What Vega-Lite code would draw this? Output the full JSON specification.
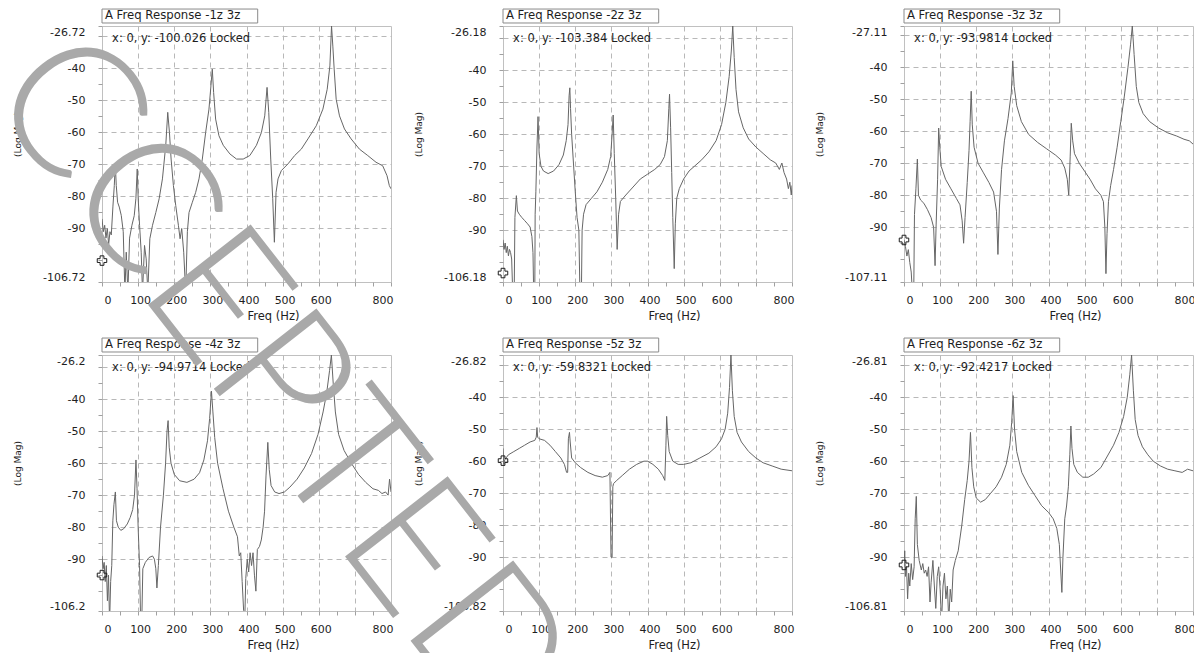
{
"$schema": "https://vega.github.io/schema/vega-lite/v6.json",
"background": "white",
"padding": {"left": -46, "top": 4, "right": 10, "bottom": 0},
"bounds": "flush",
"columns": 3,
"spacing": {"row": 73, "column": 112},
"datasets": {
"p1": [{"f":0,"m":-87},{"f":3.7,"m":-91},{"f":7.4,"m":-89},{"f":11,"m":-93},{"f":14.7,"m":-90},{"f":18.4,"m":-95},{"f":22,"m":-91},{"f":25.7,"m":-92},{"f":30.3,"m":-83},{"f":34,"m":-76.6},{"f":36.8,"m":-69.8},{"f":39.5,"m":-76.6},{"f":43.2,"m":-81.8},{"f":47.8,"m":-83.3},{"f":53.3,"m":-85.9},{"f":58.8,"m":-91},{"f":63.4,"m":-110},{"f":67.1,"m":-97.4},{"f":71.7,"m":-110},{"f":76.3,"m":-93},{"f":82.8,"m":-89},{"f":89.2,"m":-86},{"f":93.8,"m":-80.7},{"f":97.5,"m":-71.4},{"f":100.2,"m":-80.7},{"f":104,"m":-89},{"f":108.5,"m":-97.4},{"f":112.2,"m":-110},{"f":117.7,"m":-95.3},{"f":122.3,"m":-99.5},{"f":126.9,"m":-110},{"f":132.4,"m":-93.2},{"f":139.8,"m":-89},{"f":149,"m":-85},{"f":158.2,"m":-80.7},{"f":167.3,"m":-74.5},{"f":176.5,"m":-64},{"f":182,"m":-53.7},{"f":186.7,"m":-60},{"f":191.3,"m":-68.3},{"f":197.7,"m":-76.6},{"f":204.1,"m":-82.8},{"f":211.5,"m":-89},{"f":216.1,"m":-93.2},{"f":220.7,"m":-90},{"f":226.2,"m":-97.4},{"f":231.7,"m":-110},{"f":236.3,"m":-91},{"f":240.9,"m":-85},{"f":250.1,"m":-81.8},{"f":259.3,"m":-78.7},{"f":268.5,"m":-74.5},{"f":277.7,"m":-68.3},{"f":286.9,"m":-60},{"f":296.1,"m":-52.7},{"f":301.6,"m":-45.4},{"f":305.3,"m":-40.2},{"f":309,"m":-47.5},{"f":314.5,"m":-55.8},{"f":323.7,"m":-61},{"f":335.6,"m":-64},{"f":354,"m":-66.7},{"f":372.4,"m":-68.3},{"f":390.8,"m":-68.3},{"f":409.2,"m":-67.2},{"f":427.5,"m":-64},{"f":441.3,"m":-60},{"f":450.5,"m":-54.8},{"f":456.9,"m":-45.9},{"f":461.6,"m":-53.7},{"f":467.1,"m":-68.3},{"f":472.6,"m":-80.7},{"f":477.2,"m":-94.3},{"f":481.8,"m":-78.7},{"f":487.3,"m":-74.5},{"f":496.5,"m":-71.9},{"f":514.9,"m":-69.8},{"f":533.3,"m":-67.2},{"f":551.7,"m":-65.2},{"f":570.1,"m":-62},{"f":593.1,"m":-57.9},{"f":611.5,"m":-52.7},{"f":623.4,"m":-46.5},{"f":630.8,"m":-39.2},{"f":635.4,"m":-26.72},{"f":639,"m":-33},{"f":642.7,"m":-40.2},{"f":648.2,"m":-49.6},{"f":657.4,"m":-54.8},{"f":671.2,"m":-58.9},{"f":689.6,"m":-62},{"f":712.6,"m":-65.2},{"f":735.6,"m":-67.2},{"f":758.6,"m":-69.3},{"f":777,"m":-70.4},{"f":789,"m":-73.5},{"f":795.4,"m":-76.6},{"f":800,"m":-77.6}],
"p2": [{"f":0,"m":-93},{"f":3,"m":-96},{"f":6,"m":-94},{"f":9,"m":-97},{"f":12,"m":-95},{"f":15,"m":-98},{"f":18,"m":-96},{"f":21,"m":-97},{"f":24,"m":-99},{"f":27,"m":-110},{"f":31,"m":-110},{"f":33,"m":-86},{"f":37,"m":-79.2},{"f":40,"m":-84},{"f":45,"m":-85},{"f":52,"m":-86},{"f":60,"m":-87},{"f":68,"m":-88},{"f":75,"m":-89},{"f":80,"m":-92},{"f":83,"m":-97},{"f":85,"m":-110},{"f":88,"m":-110},{"f":89,"m":-85},{"f":91,"m":-78},{"f":94,"m":-64},{"f":97,"m":-54.5},{"f":100,"m":-66},{"f":105,"m":-70},{"f":112,"m":-71.5},{"f":125,"m":-72.3},{"f":140,"m":-71.5},{"f":155,"m":-69.5},{"f":167,"m":-66.5},{"f":175,"m":-62},{"f":180,"m":-57},{"f":183,"m":-48},{"f":185,"m":-45.5},{"f":187,"m":-52},{"f":190,"m":-60},{"f":195,"m":-69},{"f":200,"m":-78},{"f":205,"m":-86},{"f":210,"m":-90},{"f":213,"m":-110},{"f":217,"m":-110},{"f":219,"m":-90},{"f":223,"m":-85},{"f":230,"m":-82},{"f":245,"m":-80},{"f":260,"m":-78},{"f":275,"m":-75},{"f":290,"m":-71},{"f":298,"m":-67},{"f":302,"m":-60},{"f":305,"m":-54},{"f":308,"m":-66},{"f":312,"m":-80},{"f":316,"m":-96},{"f":320,"m":-85},{"f":325,"m":-81},{"f":340,"m":-79},{"f":360,"m":-76.5},{"f":380,"m":-74},{"f":400,"m":-72.5},{"f":420,"m":-71},{"f":435,"m":-69.5},{"f":447,"m":-67},{"f":455,"m":-62},{"f":459,"m":-52},{"f":461,"m":-47.5},{"f":464,"m":-58},{"f":467,"m":-72},{"f":470,"m":-86},{"f":474,"m":-102},{"f":477,"m":-88},{"f":481,"m":-80},{"f":488,"m":-77},{"f":500,"m":-74},{"f":515,"m":-71.5},{"f":530,"m":-70},{"f":550,"m":-68},{"f":570,"m":-65.5},{"f":590,"m":-62},{"f":605,"m":-57},{"f":617,"m":-50},{"f":626,"m":-42},{"f":632,"m":-34},{"f":636,"m":-26.18},{"f":640,"m":-36},{"f":645,"m":-46},{"f":652,"m":-53},{"f":665,"m":-58},{"f":680,"m":-61.5},{"f":700,"m":-64},{"f":720,"m":-66},{"f":740,"m":-68},{"f":755,"m":-69},{"f":765,"m":-71},{"f":772,"m":-69},{"f":778,"m":-72},{"f":785,"m":-74},{"f":790,"m":-77},{"f":794,"m":-75},{"f":798,"m":-79},{"f":800,"m":-76}],
"p3": [{"f":0,"m":-94},{"f":4,"m":-96},{"f":8,"m":-99},{"f":12,"m":-97},{"f":16,"m":-101},{"f":20,"m":-104},{"f":23,"m":-110},{"f":27,"m":-110},{"f":29,"m":-86},{"f":33,"m":-78},{"f":37,"m":-68.7},{"f":40,"m":-80},{"f":46,"m":-81.5},{"f":55,"m":-82.5},{"f":65,"m":-84.5},{"f":75,"m":-87},{"f":82,"m":-90},{"f":86,"m":-102},{"f":89,"m":-89},{"f":93,"m":-75},{"f":96,"m":-59},{"f":99,"m":-65},{"f":103,"m":-71},{"f":115,"m":-75},{"f":130,"m":-78},{"f":145,"m":-81},{"f":155,"m":-83},{"f":161,"m":-88},{"f":165,"m":-95},{"f":169,"m":-87},{"f":175,"m":-76},{"f":180,"m":-66},{"f":183,"m":-57},{"f":186,"m":-47.5},{"f":189,"m":-58},{"f":194,"m":-65},{"f":205,"m":-70},{"f":220,"m":-73},{"f":235,"m":-76},{"f":248,"m":-79},{"f":256,"m":-85},{"f":260,"m":-98.5},{"f":264,"m":-84},{"f":270,"m":-72},{"f":278,"m":-63},{"f":288,"m":-56},{"f":297,"m":-48},{"f":301,"m":-38},{"f":305,"m":-46},{"f":312,"m":-52},{"f":325,"m":-57},{"f":345,"m":-61},{"f":370,"m":-63.5},{"f":395,"m":-65.5},{"f":420,"m":-67.5},{"f":435,"m":-69},{"f":445,"m":-71.5},{"f":452,"m":-75},{"f":456,"m":-80},{"f":460,"m":-68},{"f":463,"m":-57.5},{"f":467,"m":-63},{"f":472,"m":-67},{"f":485,"m":-70},{"f":500,"m":-72.5},{"f":515,"m":-75},{"f":530,"m":-78},{"f":545,"m":-80},{"f":552,"m":-82},{"f":556,"m":-90},{"f":559,"m":-104.5},{"f":562,"m":-92},{"f":566,"m":-82},{"f":572,"m":-77},{"f":580,"m":-72},{"f":590,"m":-65},{"f":600,"m":-57},{"f":610,"m":-49},{"f":620,"m":-40},{"f":627,"m":-33},{"f":632,"m":-27.11},{"f":637,"m":-36},{"f":643,"m":-46},{"f":650,"m":-51},{"f":662,"m":-54.5},{"f":680,"m":-57},{"f":705,"m":-59},{"f":730,"m":-60.5},{"f":755,"m":-61.5},{"f":775,"m":-62.5},{"f":790,"m":-63},{"f":800,"m":-64}],
"p4": [{"f":0,"m":-89},{"f":3,"m":-93},{"f":6,"m":-91},{"f":9,"m":-97},{"f":12,"m":-92},{"f":15,"m":-103},{"f":18,"m":-95},{"f":21,"m":-110},{"f":24,"m":-97},{"f":27,"m":-92},{"f":30,"m":-78},{"f":33,"m":-73},{"f":37,"m":-69},{"f":40,"m":-78},{"f":45,"m":-80},{"f":52,"m":-81},{"f":60,"m":-80.5},{"f":70,"m":-79},{"f":78,"m":-77},{"f":85,"m":-74.5},{"f":90,"m":-70},{"f":94,"m":-59},{"f":97,"m":-68},{"f":100,"m":-80},{"f":104,"m":-92},{"f":107,"m":-110},{"f":110,"m":-110},{"f":113,"m":-93},{"f":120,"m":-91},{"f":130,"m":-89.5},{"f":140,"m":-89},{"f":145,"m":-90},{"f":149,"m":-93},{"f":152,"m":-99},{"f":156,"m":-92},{"f":162,"m":-80},{"f":170,"m":-70},{"f":176,"m":-60},{"f":180,"m":-50},{"f":183,"m":-46.7},{"f":186,"m":-55},{"f":191,"m":-60},{"f":200,"m":-63.5},{"f":215,"m":-65.5},{"f":235,"m":-66},{"f":255,"m":-65},{"f":270,"m":-63},{"f":282,"m":-59},{"f":292,"m":-53},{"f":298,"m":-46},{"f":303,"m":-37.5},{"f":307,"m":-44},{"f":312,"m":-52},{"f":320,"m":-60},{"f":335,"m":-68},{"f":350,"m":-75},{"f":365,"m":-80},{"f":375,"m":-83},{"f":380,"m":-89},{"f":384,"m":-88},{"f":388,"m":-97},{"f":392,"m":-106},{"f":395,"m":-110},{"f":398,"m":-96},{"f":402,"m":-90},{"f":406,"m":-94},{"f":410,"m":-88},{"f":414,"m":-92},{"f":418,"m":-88},{"f":422,"m":-95},{"f":426,"m":-100},{"f":430,"m":-87},{"f":436,"m":-86},{"f":441,"m":-84},{"f":446,"m":-80},{"f":450,"m":-75},{"f":454,"m":-64},{"f":459,"m":-53.5},{"f":463,"m":-62},{"f":468,"m":-67},{"f":478,"m":-69},{"f":490,"m":-69.5},{"f":505,"m":-69},{"f":520,"m":-67.5},{"f":540,"m":-65},{"f":560,"m":-61.5},{"f":580,"m":-57},{"f":598,"m":-51},{"f":612,"m":-44},{"f":622,"m":-38},{"f":630,"m":-31},{"f":635,"m":-26.2},{"f":640,"m":-35},{"f":646,"m":-44},{"f":655,"m":-51},{"f":670,"m":-56},{"f":690,"m":-60},{"f":710,"m":-63.5},{"f":730,"m":-66},{"f":750,"m":-68},{"f":765,"m":-68.5},{"f":775,"m":-69.5},{"f":785,"m":-69},{"f":792,"m":-70},{"f":796,"m":-65},{"f":800,"m":-69}],
"p5": [{"f":0,"m":-56},{"f":2,"m":-61},{"f":5,"m":-59.5},{"f":15,"m":-58},{"f":30,"m":-57},{"f":45,"m":-56},{"f":60,"m":-55},{"f":75,"m":-54},{"f":88,"m":-53.5},{"f":92,"m":-52.5},{"f":94,"m":-49.5},{"f":96,"m":-52.5},{"f":100,"m":-53},{"f":115,"m":-53.5},{"f":130,"m":-55},{"f":145,"m":-57},{"f":160,"m":-59},{"f":170,"m":-61},{"f":176,"m":-63.5},{"f":179,"m":-63.5},{"f":181,"m":-53},{"f":184,"m":-51},{"f":186,"m":-54},{"f":190,"m":-59},{"f":200,"m":-60.5},{"f":215,"m":-62},{"f":235,"m":-63.5},{"f":255,"m":-64.5},{"f":275,"m":-65},{"f":290,"m":-64.5},{"f":296,"m":-63.5},{"f":299,"m":-90},{"f":302,"m":-90},{"f":304,"m":-68},{"f":306,"m":-67},{"f":315,"m":-66},{"f":330,"m":-64.5},{"f":350,"m":-62.5},{"f":370,"m":-61},{"f":390,"m":-60},{"f":400,"m":-60},{"f":415,"m":-61},{"f":430,"m":-62.5},{"f":442,"m":-64.5},{"f":448,"m":-66},{"f":451,"m":-55},{"f":453,"m":-46},{"f":456,"m":-52},{"f":460,"m":-57},{"f":470,"m":-60},{"f":485,"m":-61},{"f":500,"m":-61},{"f":520,"m":-60.5},{"f":545,"m":-59},{"f":570,"m":-57.5},{"f":590,"m":-55.5},{"f":605,"m":-53},{"f":615,"m":-50},{"f":622,"m":-45},{"f":627,"m":-37},{"f":631,"m":-26.82},{"f":635,"m":-38},{"f":640,"m":-46},{"f":648,"m":-51},{"f":660,"m":-54},{"f":680,"m":-57},{"f":700,"m":-59},{"f":720,"m":-60.5},{"f":745,"m":-61.5},{"f":770,"m":-62.5},{"f":800,"m":-63}],
"p6": [{"f":0,"m":-93},{"f":2,"m":-88},{"f":4,"m":-96},{"f":7,"m":-93},{"f":10,"m":-103},{"f":13,"m":-95},{"f":16,"m":-99},{"f":20,"m":-92},{"f":24,"m":-97},{"f":28,"m":-93},{"f":31,"m":-78},{"f":34,"m":-71},{"f":37,"m":-86},{"f":42,"m":-91},{"f":48,"m":-94},{"f":52,"m":-92},{"f":56,"m":-95},{"f":60,"m":-94},{"f":64,"m":-96},{"f":68,"m":-93},{"f":72,"m":-104},{"f":75,"m":-98},{"f":80,"m":-91},{"f":84,"m":-99},{"f":88,"m":-106},{"f":92,"m":-96},{"f":96,"m":-93},{"f":100,"m":-100},{"f":104,"m":-110},{"f":108,"m":-99},{"f":112,"m":-95},{"f":116,"m":-103},{"f":120,"m":-99},{"f":124,"m":-110},{"f":128,"m":-100},{"f":132,"m":-104},{"f":136,"m":-94},{"f":142,"m":-91},{"f":150,"m":-88},{"f":160,"m":-80},{"f":168,"m":-72},{"f":175,"m":-66},{"f":180,"m":-60},{"f":184,"m":-51},{"f":188,"m":-62},{"f":193,"m":-68},{"f":200,"m":-71.5},{"f":212,"m":-72.8},{"f":225,"m":-72},{"f":240,"m":-70},{"f":255,"m":-68},{"f":270,"m":-65},{"f":283,"m":-61},{"f":293,"m":-55},{"f":298,"m":-48},{"f":302,"m":-39.5},{"f":306,"m":-50},{"f":312,"m":-57},{"f":326,"m":-63.5},{"f":344,"m":-67.5},{"f":363,"m":-70.8},{"f":381,"m":-73.9},{"f":400,"m":-76},{"f":413,"m":-78},{"f":423,"m":-81},{"f":430,"m":-86},{"f":437,"m":-101},{"f":440,"m":-90},{"f":445,"m":-78},{"f":450,"m":-74},{"f":455,"m":-68},{"f":459,"m":-58},{"f":462,"m":-49},{"f":465,"m":-56},{"f":470,"m":-61},{"f":480,"m":-63.5},{"f":495,"m":-65},{"f":510,"m":-65},{"f":525,"m":-64},{"f":545,"m":-62},{"f":560,"m":-59},{"f":580,"m":-55},{"f":595,"m":-51},{"f":608,"m":-46},{"f":618,"m":-40},{"f":625,"m":-33},{"f":630,"m":-26.81},{"f":635,"m":-38},{"f":640,"m":-47},{"f":648,"m":-52},{"f":660,"m":-55.5},{"f":675,"m":-58},{"f":690,"m":-60},{"f":710,"m":-61.5},{"f":730,"m":-62.5},{"f":750,"m":-63},{"f":770,"m":-63.5},{"f":785,"m":-62.5},{"f":800,"m":-63}]
},
"concat": [
{"width": 289, "height": 256, "resolve": {"scale": {"x": "independent", "y": "independent"}}, "layer": [
 {"data": {"name": "p1"}, "mark": {"type": "line", "clip": true, "color": "#666666", "strokeWidth": 1},
  "encoding": {
   "x": {"field": "f", "type": "quantitative", "scale": {"domain": [0, 800]}, "axis": {"title": "Freq (Hz)", "values": [0,50,100,150,200,250,300,350,400,450,500,550,600,650,700,750,800], "labelOverlap": false, "labelExpr": "datum.value % 100 == 0 && datum.value != 700 ? datum.label : ''", "gridOpacity": {"condition": {"test": "datum.value % 100 == 0 && datum.value > 0 && datum.value < 800", "value": 1}, "value": 0}}},
   "y": {"field": "m", "type": "quantitative", "scale": {"domain": [-106.72, -26.72]}, "axis": {"title": "(Log Mag)", "values": [-106.72,-100,-95,-90,-85,-80,-75,-70,-65,-60,-55,-50,-45,-40,-35,-30,-26.72], "labelOverlap": false, "labelExpr": "(datum.value % 10 == 0 && datum.value > -95 && datum.value < -35) || datum.value % 5 != 0 ? toString(datum.value) : ''", "gridOpacity": {"condition": {"test": "datum.value % 10 == 0 && datum.value >= -90", "value": 1}, "value": 0}}}}},
 {"data": {"values": [{}]}, "mark": {"type": "rect", "fill": "#ffffff", "stroke": "#8a8a8a", "strokeWidth": 1},
  "encoding": {"x": {"datum": 0, "type": "quantitative", "scale": {"domain": [0, 800]}, "axis": null}, "x2": {"datum": 431}, "y": {"datum": -21.42, "type": "quantitative", "scale": {"domain": [-106.72, -26.72]}, "axis": null}, "y2": {"datum": -25.78}}},
 {"data": {"values": [{}]}, "mark": {"type": "text", "text": "A Freq Response -1z 3z", "align": "left", "baseline": "middle", "font": "DejaVu Sans", "fontSize": 11.7, "color": "#1e1e1e"},
  "encoding": {"x": {"datum": 8, "type": "quantitative", "scale": {"domain": [0, 800]}, "axis": null}, "y": {"datum": -23.28, "type": "quantitative", "scale": {"domain": [-106.72, -26.72]}, "axis": null}}},
 {"data": {"values": [{}]}, "mark": {"type": "text", "text": "x: 0, y: -100.026 Locked", "align": "left", "baseline": "middle", "font": "DejaVu Sans", "fontSize": 11.5, "color": "#1e1e1e"},
  "encoding": {"x": {"datum": 28, "type": "quantitative", "scale": {"domain": [0, 800]}, "axis": null}, "y": {"datum": -30.82, "type": "quantitative", "scale": {"domain": [-106.72, -26.72]}, "axis": null}}},
 {"data": {"values": [{}]}, "mark": {"type": "point", "shape": "cross", "size": 90, "filled": false, "color": "#1e1e1e", "strokeWidth": 1, "opacity": 1},
  "encoding": {"x": {"datum": 0, "type": "quantitative", "scale": {"domain": [0, 800]}, "axis": null}, "y": {"datum": -100.026, "type": "quantitative", "scale": {"domain": [-106.72, -26.72]}, "axis": null}}}
]},
{"width": 289, "height": 256, "resolve": {"scale": {"x": "independent", "y": "independent"}}, "layer": [
 {"data": {"name": "p2"}, "mark": {"type": "line", "clip": true, "color": "#666666", "strokeWidth": 1},
  "encoding": {
   "x": {"field": "f", "type": "quantitative", "scale": {"domain": [0, 800]}, "axis": {"title": "Freq (Hz)", "values": [0,50,100,150,200,250,300,350,400,450,500,550,600,650,700,750,800], "labelOverlap": false, "labelExpr": "datum.value % 100 == 0 && datum.value != 700 ? datum.label : ''", "gridOpacity": {"condition": {"test": "datum.value % 100 == 0 && datum.value > 0 && datum.value < 800", "value": 1}, "value": 0}}},
   "y": {"field": "m", "type": "quantitative", "scale": {"domain": [-106.18, -26.18]}, "axis": {"title": "(Log Mag)", "values": [-106.18,-100,-95,-90,-85,-80,-75,-70,-65,-60,-55,-50,-45,-40,-35,-30,-26.18], "labelOverlap": false, "labelExpr": "(datum.value % 10 == 0 && datum.value > -95 && datum.value < -35) || datum.value % 5 != 0 ? toString(datum.value) : ''", "gridOpacity": {"condition": {"test": "datum.value % 10 == 0 && datum.value >= -90", "value": 1}, "value": 0}}}}},
 {"data": {"values": [{}]}, "mark": {"type": "rect", "fill": "#ffffff", "stroke": "#8a8a8a", "strokeWidth": 1},
  "encoding": {"x": {"datum": 0, "type": "quantitative", "scale": {"domain": [0, 800]}, "axis": null}, "x2": {"datum": 431}, "y": {"datum": -20.88, "type": "quantitative", "scale": {"domain": [-106.18, -26.18]}, "axis": null}, "y2": {"datum": -25.24}}},
 {"data": {"values": [{}]}, "mark": {"type": "text", "text": "A Freq Response -2z 3z", "align": "left", "baseline": "middle", "font": "DejaVu Sans", "fontSize": 11.7, "color": "#1e1e1e"},
  "encoding": {"x": {"datum": 8, "type": "quantitative", "scale": {"domain": [0, 800]}, "axis": null}, "y": {"datum": -22.74, "type": "quantitative", "scale": {"domain": [-106.18, -26.18]}, "axis": null}}},
 {"data": {"values": [{}]}, "mark": {"type": "text", "text": "x: 0, y: -103.384 Locked", "align": "left", "baseline": "middle", "font": "DejaVu Sans", "fontSize": 11.5, "color": "#1e1e1e"},
  "encoding": {"x": {"datum": 28, "type": "quantitative", "scale": {"domain": [0, 800]}, "axis": null}, "y": {"datum": -30.28, "type": "quantitative", "scale": {"domain": [-106.18, -26.18]}, "axis": null}}},
 {"data": {"values": [{}]}, "mark": {"type": "point", "shape": "cross", "size": 90, "filled": false, "color": "#1e1e1e", "strokeWidth": 1, "opacity": 1},
  "encoding": {"x": {"datum": 0, "type": "quantitative", "scale": {"domain": [0, 800]}, "axis": null}, "y": {"datum": -103.384, "type": "quantitative", "scale": {"domain": [-106.18, -26.18]}, "axis": null}}}
]},
{"width": 289, "height": 256, "resolve": {"scale": {"x": "independent", "y": "independent"}}, "layer": [
 {"data": {"name": "p3"}, "mark": {"type": "line", "clip": true, "color": "#666666", "strokeWidth": 1},
  "encoding": {
   "x": {"field": "f", "type": "quantitative", "scale": {"domain": [0, 800]}, "axis": {"title": "Freq (Hz)", "values": [0,50,100,150,200,250,300,350,400,450,500,550,600,650,700,750,800], "labelOverlap": false, "labelExpr": "datum.value % 100 == 0 && datum.value != 700 ? datum.label : ''", "gridOpacity": {"condition": {"test": "datum.value % 100 == 0 && datum.value > 0 && datum.value < 800", "value": 1}, "value": 0}}},
   "y": {"field": "m", "type": "quantitative", "scale": {"domain": [-107.11, -27.11]}, "axis": {"title": "(Log Mag)", "values": [-107.11,-100,-95,-90,-85,-80,-75,-70,-65,-60,-55,-50,-45,-40,-35,-30,-27.11], "labelOverlap": false, "labelExpr": "(datum.value % 10 == 0 && datum.value > -95 && datum.value < -35) || datum.value % 5 != 0 ? toString(datum.value) : ''", "gridOpacity": {"condition": {"test": "datum.value % 10 == 0 && datum.value >= -90", "value": 1}, "value": 0}}}}},
 {"data": {"values": [{}]}, "mark": {"type": "rect", "fill": "#ffffff", "stroke": "#8a8a8a", "strokeWidth": 1},
  "encoding": {"x": {"datum": 0, "type": "quantitative", "scale": {"domain": [0, 800]}, "axis": null}, "x2": {"datum": 431}, "y": {"datum": -21.81, "type": "quantitative", "scale": {"domain": [-107.11, -27.11]}, "axis": null}, "y2": {"datum": -26.17}}},
 {"data": {"values": [{}]}, "mark": {"type": "text", "text": "A Freq Response -3z 3z", "align": "left", "baseline": "middle", "font": "DejaVu Sans", "fontSize": 11.7, "color": "#1e1e1e"},
  "encoding": {"x": {"datum": 8, "type": "quantitative", "scale": {"domain": [0, 800]}, "axis": null}, "y": {"datum": -23.67, "type": "quantitative", "scale": {"domain": [-107.11, -27.11]}, "axis": null}}},
 {"data": {"values": [{}]}, "mark": {"type": "text", "text": "x: 0, y: -93.9814 Locked", "align": "left", "baseline": "middle", "font": "DejaVu Sans", "fontSize": 11.5, "color": "#1e1e1e"},
  "encoding": {"x": {"datum": 28, "type": "quantitative", "scale": {"domain": [0, 800]}, "axis": null}, "y": {"datum": -31.21, "type": "quantitative", "scale": {"domain": [-107.11, -27.11]}, "axis": null}}},
 {"data": {"values": [{}]}, "mark": {"type": "point", "shape": "cross", "size": 90, "filled": false, "color": "#1e1e1e", "strokeWidth": 1, "opacity": 1},
  "encoding": {"x": {"datum": 0, "type": "quantitative", "scale": {"domain": [0, 800]}, "axis": null}, "y": {"datum": -93.9814, "type": "quantitative", "scale": {"domain": [-107.11, -27.11]}, "axis": null}}}
]},
{"width": 289, "height": 256, "resolve": {"scale": {"x": "independent", "y": "independent"}}, "layer": [
 {"data": {"name": "p4"}, "mark": {"type": "line", "clip": true, "color": "#666666", "strokeWidth": 1},
  "encoding": {
   "x": {"field": "f", "type": "quantitative", "scale": {"domain": [0, 800]}, "axis": {"title": "Freq (Hz)", "values": [0,50,100,150,200,250,300,350,400,450,500,550,600,650,700,750,800], "labelOverlap": false, "labelExpr": "datum.value % 100 == 0 && datum.value != 700 ? datum.label : ''", "gridOpacity": {"condition": {"test": "datum.value % 100 == 0 && datum.value > 0 && datum.value < 800", "value": 1}, "value": 0}}},
   "y": {"field": "m", "type": "quantitative", "scale": {"domain": [-106.2, -26.2]}, "axis": {"title": "(Log Mag)", "values": [-106.2,-100,-95,-90,-85,-80,-75,-70,-65,-60,-55,-50,-45,-40,-35,-30,-26.2], "labelOverlap": false, "labelExpr": "(datum.value % 10 == 0 && datum.value > -95 && datum.value < -35) || datum.value % 5 != 0 ? toString(datum.value) : ''", "gridOpacity": {"condition": {"test": "datum.value % 10 == 0 && datum.value >= -90", "value": 1}, "value": 0}}}}},
 {"data": {"values": [{}]}, "mark": {"type": "rect", "fill": "#ffffff", "stroke": "#8a8a8a", "strokeWidth": 1},
  "encoding": {"x": {"datum": 0, "type": "quantitative", "scale": {"domain": [0, 800]}, "axis": null}, "x2": {"datum": 431}, "y": {"datum": -20.9, "type": "quantitative", "scale": {"domain": [-106.2, -26.2]}, "axis": null}, "y2": {"datum": -25.26}}},
 {"data": {"values": [{}]}, "mark": {"type": "text", "text": "A Freq Response -4z 3z", "align": "left", "baseline": "middle", "font": "DejaVu Sans", "fontSize": 11.7, "color": "#1e1e1e"},
  "encoding": {"x": {"datum": 8, "type": "quantitative", "scale": {"domain": [0, 800]}, "axis": null}, "y": {"datum": -22.76, "type": "quantitative", "scale": {"domain": [-106.2, -26.2]}, "axis": null}}},
 {"data": {"values": [{}]}, "mark": {"type": "text", "text": "x: 0, y: -94.9714 Locked", "align": "left", "baseline": "middle", "font": "DejaVu Sans", "fontSize": 11.5, "color": "#1e1e1e"},
  "encoding": {"x": {"datum": 28, "type": "quantitative", "scale": {"domain": [0, 800]}, "axis": null}, "y": {"datum": -30.3, "type": "quantitative", "scale": {"domain": [-106.2, -26.2]}, "axis": null}}},
 {"data": {"values": [{}]}, "mark": {"type": "point", "shape": "cross", "size": 90, "filled": false, "color": "#1e1e1e", "strokeWidth": 1, "opacity": 1},
  "encoding": {"x": {"datum": 0, "type": "quantitative", "scale": {"domain": [0, 800]}, "axis": null}, "y": {"datum": -94.9714, "type": "quantitative", "scale": {"domain": [-106.2, -26.2]}, "axis": null}}}
]},
{"width": 289, "height": 256, "resolve": {"scale": {"x": "independent", "y": "independent"}}, "layer": [
 {"data": {"name": "p5"}, "mark": {"type": "line", "clip": true, "color": "#666666", "strokeWidth": 1},
  "encoding": {
   "x": {"field": "f", "type": "quantitative", "scale": {"domain": [0, 800]}, "axis": {"title": "Freq (Hz)", "values": [0,50,100,150,200,250,300,350,400,450,500,550,600,650,700,750,800], "labelOverlap": false, "labelExpr": "datum.value % 100 == 0 && datum.value != 700 ? datum.label : ''", "gridOpacity": {"condition": {"test": "datum.value % 100 == 0 && datum.value > 0 && datum.value < 800", "value": 1}, "value": 0}}},
   "y": {"field": "m", "type": "quantitative", "scale": {"domain": [-106.82, -26.82]}, "axis": {"title": "(Log Mag)", "values": [-106.82,-100,-95,-90,-85,-80,-75,-70,-65,-60,-55,-50,-45,-40,-35,-30,-26.82], "labelOverlap": false, "labelExpr": "(datum.value % 10 == 0 && datum.value > -95 && datum.value < -35) || datum.value % 5 != 0 ? toString(datum.value) : ''", "gridOpacity": {"condition": {"test": "datum.value % 10 == 0 && datum.value >= -90", "value": 1}, "value": 0}}}}},
 {"data": {"values": [{}]}, "mark": {"type": "rect", "fill": "#ffffff", "stroke": "#8a8a8a", "strokeWidth": 1},
  "encoding": {"x": {"datum": 0, "type": "quantitative", "scale": {"domain": [0, 800]}, "axis": null}, "x2": {"datum": 431}, "y": {"datum": -21.52, "type": "quantitative", "scale": {"domain": [-106.82, -26.82]}, "axis": null}, "y2": {"datum": -25.88}}},
 {"data": {"values": [{}]}, "mark": {"type": "text", "text": "A Freq Response -5z 3z", "align": "left", "baseline": "middle", "font": "DejaVu Sans", "fontSize": 11.7, "color": "#1e1e1e"},
  "encoding": {"x": {"datum": 8, "type": "quantitative", "scale": {"domain": [0, 800]}, "axis": null}, "y": {"datum": -23.38, "type": "quantitative", "scale": {"domain": [-106.82, -26.82]}, "axis": null}}},
 {"data": {"values": [{}]}, "mark": {"type": "text", "text": "x: 0, y: -59.8321 Locked", "align": "left", "baseline": "middle", "font": "DejaVu Sans", "fontSize": 11.5, "color": "#1e1e1e"},
  "encoding": {"x": {"datum": 28, "type": "quantitative", "scale": {"domain": [0, 800]}, "axis": null}, "y": {"datum": -30.92, "type": "quantitative", "scale": {"domain": [-106.82, -26.82]}, "axis": null}}},
 {"data": {"values": [{}]}, "mark": {"type": "point", "shape": "cross", "size": 90, "filled": false, "color": "#1e1e1e", "strokeWidth": 1, "opacity": 1},
  "encoding": {"x": {"datum": 0, "type": "quantitative", "scale": {"domain": [0, 800]}, "axis": null}, "y": {"datum": -59.8321, "type": "quantitative", "scale": {"domain": [-106.82, -26.82]}, "axis": null}}},
 {"data": {"values": [{}]}, "mark": {"type": "text", "text": "CCEPTED", "align": "center", "baseline": "middle", "font": "Lato", "fontWeight": 300, "fontSize": 184, "angle": 52, "color": "#a9a9a9"},
  "encoding": {"x": {"datum": -622.6, "type": "quantitative", "scale": {"domain": [0, 800]}, "axis": null}, "y": {"datum": -35.12, "type": "quantitative", "scale": {"domain": [-106.82, -26.82]}, "axis": null}}}
]},
{"width": 289, "height": 256, "resolve": {"scale": {"x": "independent", "y": "independent"}}, "layer": [
 {"data": {"name": "p6"}, "mark": {"type": "line", "clip": true, "color": "#666666", "strokeWidth": 1},
  "encoding": {
   "x": {"field": "f", "type": "quantitative", "scale": {"domain": [0, 800]}, "axis": {"title": "Freq (Hz)", "values": [0,50,100,150,200,250,300,350,400,450,500,550,600,650,700,750,800], "labelOverlap": false, "labelExpr": "datum.value % 100 == 0 && datum.value != 700 ? datum.label : ''", "gridOpacity": {"condition": {"test": "datum.value % 100 == 0 && datum.value > 0 && datum.value < 800", "value": 1}, "value": 0}}},
   "y": {"field": "m", "type": "quantitative", "scale": {"domain": [-106.81, -26.81]}, "axis": {"title": "(Log Mag)", "values": [-106.81,-100,-95,-90,-85,-80,-75,-70,-65,-60,-55,-50,-45,-40,-35,-30,-26.81], "labelOverlap": false, "labelExpr": "(datum.value % 10 == 0 && datum.value > -95 && datum.value < -35) || datum.value % 5 != 0 ? toString(datum.value) : ''", "gridOpacity": {"condition": {"test": "datum.value % 10 == 0 && datum.value >= -90", "value": 1}, "value": 0}}}}},
 {"data": {"values": [{}]}, "mark": {"type": "rect", "fill": "#ffffff", "stroke": "#8a8a8a", "strokeWidth": 1},
  "encoding": {"x": {"datum": 0, "type": "quantitative", "scale": {"domain": [0, 800]}, "axis": null}, "x2": {"datum": 431}, "y": {"datum": -21.51, "type": "quantitative", "scale": {"domain": [-106.81, -26.81]}, "axis": null}, "y2": {"datum": -25.87}}},
 {"data": {"values": [{}]}, "mark": {"type": "text", "text": "A Freq Response -6z 3z", "align": "left", "baseline": "middle", "font": "DejaVu Sans", "fontSize": 11.7, "color": "#1e1e1e"},
  "encoding": {"x": {"datum": 8, "type": "quantitative", "scale": {"domain": [0, 800]}, "axis": null}, "y": {"datum": -23.37, "type": "quantitative", "scale": {"domain": [-106.81, -26.81]}, "axis": null}}},
 {"data": {"values": [{}]}, "mark": {"type": "text", "text": "x: 0, y: -92.4217 Locked", "align": "left", "baseline": "middle", "font": "DejaVu Sans", "fontSize": 11.5, "color": "#1e1e1e"},
  "encoding": {"x": {"datum": 28, "type": "quantitative", "scale": {"domain": [0, 800]}, "axis": null}, "y": {"datum": -30.91, "type": "quantitative", "scale": {"domain": [-106.81, -26.81]}, "axis": null}}},
 {"data": {"values": [{}]}, "mark": {"type": "point", "shape": "cross", "size": 90, "filled": false, "color": "#1e1e1e", "strokeWidth": 1, "opacity": 1},
  "encoding": {"x": {"datum": 0, "type": "quantitative", "scale": {"domain": [0, 800]}, "axis": null}, "y": {"datum": -92.4217, "type": "quantitative", "scale": {"domain": [-106.81, -26.81]}, "axis": null}}}
]}
],
"config": {
 "view": {"stroke": "#c0c0c0", "strokeWidth": 1},
 "axis": {"labelFont": "DejaVu Sans", "labelFontSize": 11, "labelColor": "#1e1e1e", "titleFont": "DejaVu Sans", "titleFontWeight": "normal", "titleColor": "#1e1e1e", "domain": false, "tickColor": "#a0a0a0", "tickSize": 4, "gridColor": "#b8b8b8", "gridDash": [5, 4], "gridWidth": 1, "labelFlush": true},
 "axisX": {"labelPadding": 8, "labelOffset": 2, "titleFontSize": 11.5, "titleX": 171, "titleY": 34, "titleBaseline": "middle", "titleAlign": "center"},
 "axisY": {"labelPadding": 13, "titleFontSize": 9, "titleX": -85, "titleY": 108, "titleBaseline": "middle", "titleAlign": "center", "titleAngle": -90}
}
}
